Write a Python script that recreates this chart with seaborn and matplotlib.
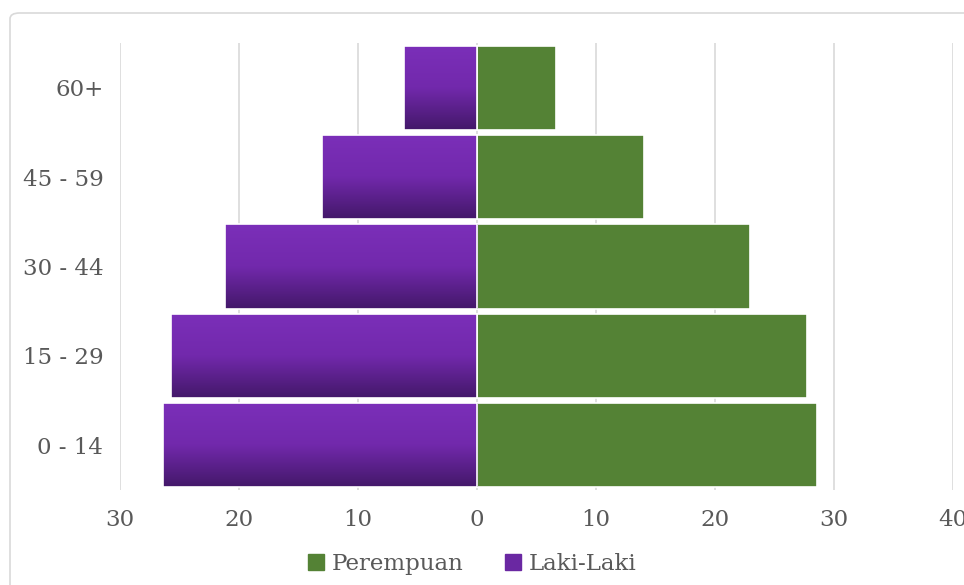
import numpy as np
import pandas as pd
import matplotlib
matplotlib.use("Agg")
import matplotlib.pyplot as plt
from matplotlib.colors import LinearSegmentedColormap
from matplotlib.lines import Line2D
from matplotlib.patches import FancyBboxPatch
import seaborn as sns

# Age groups from top to bottom of the pyramid
age_groups = ["60+", "45 - 59", "30 - 44", "15 - 29", "0 - 14"]
perempuan = [6.6, 14.0, 22.9, 27.7, 28.6]
laki_laki = [6.1, 13.0, 21.2, 25.7, 26.4]
x_ticks = [-30, -20, -10, 0, 10, 20, 30, 40]

GREEN = "#548235"
PURPLE_TOP = "#7b2fb9"
PURPLE_BOTTOM = "#431869"
PURPLE_MID = "#6a28a2"
TEXT = "#595959"
GRID = "#d9d9d9"

df = pd.DataFrame({
    "Kelompok Umur": age_groups * 2,
    "Jenis Kelamin": ["Perempuan"] * len(age_groups) + ["Laki-Laki"] * len(age_groups),
    "Persen": perempuan + [-v for v in laki_laki],
})

sns.set_theme(style="white")
plt.rcParams["font.family"] = ["DejaVu Serif"]

fig = plt.figure(figsize=(9.64, 5.85), dpi=100)
ax = fig.add_axes([0.1245, 0.1624, 0.8641, 0.7641])

# thin rounded frame around the chart area
frame = FancyBboxPatch((10 / 964, -0.2), 1.2, 1.2 - 13 / 585,
                       boxstyle="round,pad=0,rounding_size=0.01",
                       transform=fig.transFigure, facecolor="none",
                       edgecolor=GRID, linewidth=1.2, zorder=0)
fig.patches.append(frame)

sns.barplot(data=df, y="Kelompok Umur", x="Persen", hue="Jenis Kelamin",
            order=age_groups, hue_order=["Perempuan", "Laki-Laki"],
            palette={"Perempuan": GREEN, "Laki-Laki": PURPLE_MID},
            saturation=1, dodge=False, orient="h", width=0.94, ax=ax,
            edgecolor="white", linewidth=1.2, legend=False, zorder=3)

# vertical gradient fill for the Laki-Laki bars
cmap = LinearSegmentedColormap.from_list("ungu", [PURPLE_TOP, "#7229ac", PURPLE_BOTTOM])
grad = np.linspace(0, 1, 256).reshape(-1, 1)
for patch in ax.containers[1]:
    bb = patch.get_bbox()
    x0, x1 = sorted([bb.x0, bb.x1])
    y0, y1 = sorted([bb.y0, bb.y1])
    im = ax.imshow(grad, cmap=cmap, aspect="auto", origin="upper",
                   extent=(x0, x1, y1, y0), zorder=3.5, interpolation="bilinear")
    im.set_clip_path(patch)
    patch.set_facecolor("none")
    patch.set_zorder(4)

ax.set_xlim(-30, 40)
ax.set_ylim(4.5, -0.5)

ax.set_xticks(x_ticks)
ax.set_xticklabels([str(abs(t)) for t in x_ticks])
ax.xaxis.grid(True, color=GRID, linewidth=1.2, zorder=0)
ax.yaxis.grid(False)
ax.set_axisbelow(True)
for s in ax.spines.values():
    s.set_visible(False)
ax.tick_params(axis="both", length=0, labelsize=16.5, labelcolor=TEXT)
ax.tick_params(axis="x", pad=14)
ax.tick_params(axis="y", pad=12)
ax.set_xlabel("")
ax.set_ylabel("")

handles = [
    Line2D([], [], marker="s", linestyle="none", markersize=11,
           markerfacecolor=GREEN, markeredgecolor=GREEN),
    Line2D([], [], marker="s", linestyle="none", markersize=11,
           markerfacecolor=PURPLE_MID, markeredgecolor=PURPLE_MID),
]
fig.legend(handles, ["Perempuan", "Laki-Laki"], loc="center",
           bbox_to_anchor=(0.49, 0.036), ncol=2, frameon=False,
           fontsize=16.5, labelcolor=TEXT, handlelength=0.7,
           handletextpad=0.35, columnspacing=1.8)

fig.savefig("out.png", dpi=100, facecolor="white")
